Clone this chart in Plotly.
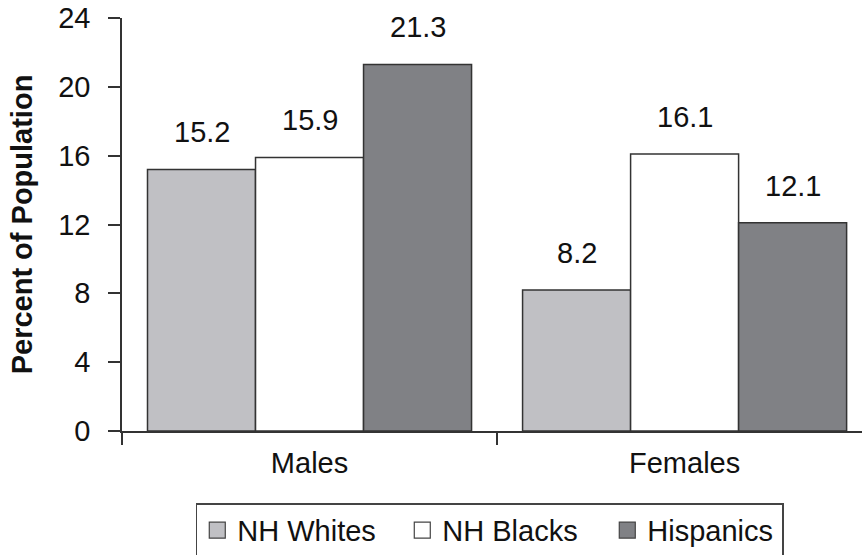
import plotly.graph_objects as go

groups = ["Males", "Females"]
series = ["NH Whites", "NH Blacks", "Hispanics"]
nh_whites = [15.2, 8.2]
nh_blacks = [15.9, 16.1]
hispanics = [21.3, 12.1]
y_ticks = [0, 4, 8, 12, 16, 20, 24]

colors = ["#c0c0c4", "#ffffff", "#808185"]
font = "Liberation Sans, Arial, sans-serif"
fsize = 29

fig = go.Figure()
for name, vals, col in zip(series, [nh_whites, nh_blacks, hispanics], colors):
    fig.add_trace(go.Bar(
        x=groups, y=vals, name=name, showlegend=False,
        marker=dict(color=col, line=dict(color="#333333", width=1.5)),
    ))
    # legend entry with a bigger square swatch
    fig.add_trace(go.Scatter(
        x=[None], y=[None], name=name, mode="markers",
        legendwidth=130 if name == "Hispanics" else None,
        marker=dict(symbol="square", size=16, color=col,
                    line=dict(color="#444444", width=1.2)),
    ))

# value labels above each bar
bar_px = 108
for i, vals in enumerate([nh_whites, nh_blacks, hispanics]):
    for g, v in zip(groups, vals):
        fig.add_annotation(
            x=g, y=v, text=f"{v:.1f}", showarrow=False,
            xshift=(i - 1) * bar_px, yanchor="bottom", yshift=19,
            font=dict(size=fsize, color="#111111", family=font),
        )

fig.update_layout(
    width=862, height=555,
    margin=dict(l=122, r=0, t=18, b=124, autoexpand=False),
    paper_bgcolor="white", plot_bgcolor="white",
    barmode="group", bargap=0.136, bargroupgap=0,
    font=dict(family=font, size=fsize, color="#111111"),
    showlegend=True,
    legend=dict(
        orientation="h", x=0.497, xanchor="center", y=-0.175, yanchor="top",
        bordercolor="#444444", borderwidth=1.5, bgcolor="white",
        font=dict(size=fsize, family=font), itemwidth=30, entrywidth=160,
    ),
)
fig.update_xaxes(
    range=[-0.5, 1.473], showline=True, linecolor="#333333", linewidth=1.5,
    ticks="outside", tickson="boundaries", ticklen=12, tickcolor="#333333",
    tickwidth=1.5, ticklabelstandoff=5, showgrid=False,
)
fig.update_yaxes(
    range=[0, 24], tickvals=y_ticks, showline=True, linecolor="#333333",
    linewidth=1.5, ticks="outside", ticklen=12, tickcolor="#333333",
    tickwidth=1.5, ticklabelstandoff=12, ticklabeloverflow="allow",
    showgrid=False, zeroline=False,
    title=dict(text="<b>Percent of Population</b>", font=dict(size=fsize), standoff=17),
)

# drop the default 8px page margin so the figure fills the window
fig.write_html("out.html", config={"displayModeBar": False},
               post_script="document.body.style.margin='0';")
